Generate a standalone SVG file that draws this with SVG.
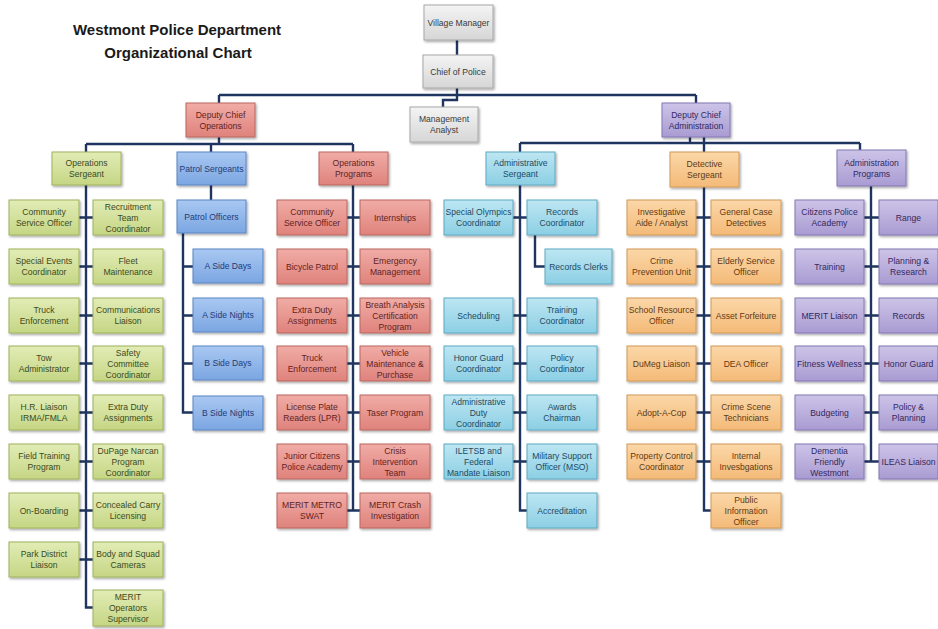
<svg xmlns="http://www.w3.org/2000/svg" width="938" height="629" viewBox="0 0 938 629">
<defs>
<linearGradient id="gw" x1="0" y1="0" x2="0" y2="1"><stop offset="0" stop-color="#f4f4f4"/><stop offset="1" stop-color="#d6d6d6"/></linearGradient>
<linearGradient id="gg" x1="0" y1="0" x2="0" y2="1"><stop offset="0" stop-color="#e2ecb6"/><stop offset="1" stop-color="#c5d684"/></linearGradient>
<linearGradient id="gr" x1="0" y1="0" x2="0" y2="1"><stop offset="0" stop-color="#f1aca6"/><stop offset="1" stop-color="#df827c"/></linearGradient>
<linearGradient id="gb" x1="0" y1="0" x2="0" y2="1"><stop offset="0" stop-color="#a9c8f2"/><stop offset="1" stop-color="#7ba6e2"/></linearGradient>
<linearGradient id="gc" x1="0" y1="0" x2="0" y2="1"><stop offset="0" stop-color="#bde6f2"/><stop offset="1" stop-color="#8ccfe4"/></linearGradient>
<linearGradient id="go" x1="0" y1="0" x2="0" y2="1"><stop offset="0" stop-color="#fbd7a8"/><stop offset="1" stop-color="#f4ba78"/></linearGradient>
<linearGradient id="gp" x1="0" y1="0" x2="0" y2="1"><stop offset="0" stop-color="#cdc4e8"/><stop offset="1" stop-color="#a99bd2"/></linearGradient>
<filter id="sh" x="-10%" y="-10%" width="130%" height="140%"><feDropShadow dx="1.2" dy="1.5" stdDeviation="0.9" flood-color="#000" flood-opacity="0.35"/></filter>
</defs>
<style>
text{font-family:"Liberation Sans",Arial,sans-serif;font-size:8.6px;text-anchor:middle}
.n rect{filter:url(#sh);stroke-width:1}
.w rect{fill:url(#gw);stroke:#a8a8a8}.w text{fill:#3a3a3a}
.g rect{fill:url(#gg);stroke:#9fb25c}.g text{fill:#3c4a22}
.r rect{fill:url(#gr);stroke:#b96660}.r text{fill:#5e2424}
.b rect{fill:url(#gb);stroke:#5b86c4}.b text{fill:#1f3c78}
.c rect{fill:url(#gc);stroke:#5eaac4}.c text{fill:#1e4a62}
.o rect{fill:url(#go);stroke:#d29a58}.o text{fill:#5e3a14}
.p rect{fill:url(#gp);stroke:#8478b4}.p text{fill:#33285e}
.title{font-size:15px;font-weight:bold;fill:#1a1a1a}
#connectors path{fill:none;stroke:#1f3560;stroke-width:2.4}
</style>
<rect width="938" height="629" fill="#ffffff"/>
<g id="title">
<text class="title" x="177" y="35">Westmont Police Department</text>
<text class="title" x="178" y="58">Organizational Chart</text>
</g>
<g id="connectors">
<path d="M457 40V55M457 88V100H443V107M219 95H696M219 95V103M696 95V103"/>
<path d="M86 144H353M219 137V144M211 144V152M86 144V152M353 144V152"/>
<path d="M520 143H860M690 137V143M704 137V152M520 143V152M860 143V150"/>
<path d="M86 185V607.5H93M79 217.5H93M79 266.5H93M79 315.5H93M79 363.5H93M79 412.5H93M79 461.5H93M79 510.5H93M79 559.5H93"/>
<path d="M211 185V200M183 233V412.5H193M183 266.5H193M183 315.5H193M183 363.5H193"/>
<path d="M353 185V510.5M347 217.5H360M347 266.5H360M347 315.5H360M347 363.5H360M347 412.5H360M347 461.5H360M347 510.5H360"/>
<path d="M520 185V510.5H527M513 217.5H527M513 315.5H527M513 363.5H527M513 412.5H527M513 461.5H527M535 235V266.5H545"/>
<path d="M704 187V510.5H711M696 217.5H711M696 266.5H711M696 315.5H711M696 363.5H711M696 412.5H711M696 461.5H711"/>
<path d="M871 186V461.5M864 217.5H879M864 266.5H879M864 315.5H879M864 363.5H879M864 412.5H879M864 461.5H879"/>
</g>
<!-- top -->
<g id="village-manager" class="n w"><rect x="424" y="5" width="69" height="35"/><text x="458.5" y="25.7">Village Manager</text></g>
<g id="chief-of-police" class="n w"><rect x="423" y="55" width="70" height="33"/><text x="458" y="74.7">Chief of Police</text></g>
<g id="management-analyst" class="n w"><rect x="410" y="107" width="68" height="35"/><text x="444" y="122.2">Management<tspan x="444" dy="11">Analyst</tspan></text></g>
<g id="deputy-chief-operations" class="n r"><rect x="186" y="103" width="69" height="34"/><text x="220.5" y="117.7">Deputy Chief<tspan x="220.5" dy="11">Operations</tspan></text></g>
<g id="deputy-chief-administration" class="n p"><rect x="662" y="103" width="68" height="34"/><text x="696" y="117.7">Deputy Chief<tspan x="696" dy="11">Administration</tspan></text></g>
<!-- level 2 -->
<g id="operations-sergeant" class="n g"><rect x="52" y="152" width="69" height="33"/><text x="86.5" y="166.2">Operations<tspan x="86.5" dy="11">Sergeant</tspan></text></g>
<g id="patrol-sergeants" class="n b"><rect x="177" y="152" width="69" height="33"/><text x="211.5" y="171.7">Patrol Sergeants</text></g>
<g id="operations-programs" class="n r"><rect x="319" y="152" width="69" height="33"/><text x="353.5" y="166.2">Operations<tspan x="353.5" dy="11">Programs</tspan></text></g>
<g id="administrative-sergeant" class="n c"><rect x="486" y="152" width="69" height="33"/><text x="520.5" y="166.2">Administrative<tspan x="520.5" dy="11">Sergeant</tspan></text></g>
<g id="detective-sergeant" class="n o"><rect x="670" y="152" width="69" height="35"/><text x="704.5" y="167.2">Detective<tspan x="704.5" dy="11">Sergeant</tspan></text></g>
<g id="administration-programs" class="n p"><rect x="837" y="150" width="69" height="36"/><text x="871.5" y="165.7">Administration<tspan x="871.5" dy="11">Programs</tspan></text></g>
<!-- operations sergeant -->
<g id="os-community-service-officer" class="n g"><rect x="9" y="200" width="70" height="35"/><text x="44" y="215.2">Community<tspan x="44" dy="11">Service Officer</tspan></text></g>
<g id="os-recruitment" class="n g"><rect x="93" y="200" width="70" height="35"/><text x="128" y="209.7">Recruitment<tspan x="128" dy="11">Team</tspan><tspan x="128" dy="11">Coordinator</tspan></text></g>
<g id="os-special-events" class="n g"><rect x="9" y="249" width="70" height="35"/><text x="44" y="264.2">Special Events<tspan x="44" dy="11">Coordinator</tspan></text></g>
<g id="os-fleet" class="n g"><rect x="93" y="249" width="70" height="35"/><text x="128" y="264.2">Fleet<tspan x="128" dy="11">Maintenance</tspan></text></g>
<g id="os-truck" class="n g"><rect x="9" y="298" width="70" height="35"/><text x="44" y="313.2">Truck<tspan x="44" dy="11">Enforcement</tspan></text></g>
<g id="os-communications" class="n g"><rect x="93" y="298" width="70" height="35"/><text x="128" y="313.2">Communications<tspan x="128" dy="11">Liaison</tspan></text></g>
<g id="os-tow" class="n g"><rect x="9" y="346" width="70" height="35"/><text x="44" y="361.2">Tow<tspan x="44" dy="11">Administrator</tspan></text></g>
<g id="os-safety" class="n g"><rect x="93" y="346" width="70" height="35"/><text x="128" y="355.7">Safety<tspan x="128" dy="11">Committee</tspan><tspan x="128" dy="11">Coordinator</tspan></text></g>
<g id="os-hr" class="n g"><rect x="9" y="395" width="70" height="35"/><text x="44" y="410.2">H.R. Liaison<tspan x="44" dy="11">IRMA/FMLA</tspan></text></g>
<g id="os-extra-duty" class="n g"><rect x="93" y="395" width="70" height="35"/><text x="128" y="410.2">Extra Duty<tspan x="128" dy="11">Assignments</tspan></text></g>
<g id="os-field-training" class="n g"><rect x="9" y="444" width="70" height="35"/><text x="44" y="459.2">Field Training<tspan x="44" dy="11">Program</tspan></text></g>
<g id="os-narcan" class="n g"><rect x="93" y="444" width="70" height="35"/><text x="128" y="453.7">DuPage Narcan<tspan x="128" dy="11">Program</tspan><tspan x="128" dy="11">Coordinator</tspan></text></g>
<g id="os-onboarding" class="n g"><rect x="9" y="493" width="70" height="35"/><text x="44" y="513.7">On-Boarding</text></g>
<g id="os-concealed-carry" class="n g"><rect x="93" y="493" width="70" height="35"/><text x="128" y="508.2">Concealed Carry<tspan x="128" dy="11">Licensing</tspan></text></g>
<g id="os-park-district" class="n g"><rect x="9" y="542" width="70" height="35"/><text x="44" y="557.2">Park District<tspan x="44" dy="11">Liaison</tspan></text></g>
<g id="os-body-cameras" class="n g"><rect x="93" y="542" width="70" height="35"/><text x="128" y="557.2">Body and Squad<tspan x="128" dy="11">Cameras</tspan></text></g>
<g id="os-merit-operators" class="n g"><rect x="93" y="590" width="70" height="36"/><text x="128" y="600.2">MERIT<tspan x="128" dy="11">Operators</tspan><tspan x="128" dy="11">Supervisor</tspan></text></g>
<!-- patrol -->
<g id="patrol-officers" class="n b"><rect x="177" y="200" width="69" height="33"/><text x="211.5" y="219.7">Patrol Officers</text></g>
<g id="a-side-days" class="n b"><rect x="193" y="249" width="70" height="34"/><text x="228" y="269.2">A Side Days</text></g>
<g id="a-side-nights" class="n b"><rect x="193" y="298" width="70" height="34"/><text x="228" y="318.2">A Side Nights</text></g>
<g id="b-side-days" class="n b"><rect x="193" y="346" width="70" height="34"/><text x="228" y="366.2">B Side Days</text></g>
<g id="b-side-nights" class="n b"><rect x="193" y="396" width="70" height="34"/><text x="228" y="416.2">B Side Nights</text></g>
<!-- operations programs -->
<g id="op-community-service-officer" class="n r"><rect x="277" y="200" width="70" height="35"/><text x="312" y="215.2">Community<tspan x="312" dy="11">Service Officer</tspan></text></g>
<g id="op-internships" class="n r"><rect x="360" y="200" width="70" height="35"/><text x="395" y="220.7">Internships</text></g>
<g id="op-bicycle-patrol" class="n r"><rect x="277" y="249" width="70" height="35"/><text x="312" y="269.7">Bicycle Patrol</text></g>
<g id="op-emergency-management" class="n r"><rect x="360" y="249" width="70" height="35"/><text x="395" y="264.2">Emergency<tspan x="395" dy="11">Management</tspan></text></g>
<g id="op-extra-duty" class="n r"><rect x="277" y="298" width="70" height="35"/><text x="312" y="313.2">Extra Duty<tspan x="312" dy="11">Assignments</tspan></text></g>
<g id="op-breath-analysis" class="n r"><rect x="360" y="298" width="70" height="35"/><text x="395" y="307.7">Breath Analysis<tspan x="395" dy="11">Certification</tspan><tspan x="395" dy="11">Program</tspan></text></g>
<g id="op-truck" class="n r"><rect x="277" y="346" width="70" height="35"/><text x="312" y="361.2">Truck<tspan x="312" dy="11">Enforcement</tspan></text></g>
<g id="op-vehicle-maintenance" class="n r"><rect x="360" y="346" width="70" height="35"/><text x="395" y="355.7">Vehicle<tspan x="395" dy="11">Maintenance &amp;</tspan><tspan x="395" dy="11">Purchase</tspan></text></g>
<g id="op-lpr" class="n r"><rect x="277" y="395" width="70" height="35"/><text x="312" y="410.2">License Plate<tspan x="312" dy="11">Readers (LPR)</tspan></text></g>
<g id="op-taser" class="n r"><rect x="360" y="395" width="70" height="35"/><text x="395" y="415.7">Taser Program</text></g>
<g id="op-junior-citizens" class="n r"><rect x="277" y="444" width="70" height="35"/><text x="312" y="459.2">Junior Citizens<tspan x="312" dy="11">Police Academy</tspan></text></g>
<g id="op-crisis-intervention" class="n r"><rect x="360" y="444" width="70" height="35"/><text x="395" y="453.7">Crisis<tspan x="395" dy="11">Intervention</tspan><tspan x="395" dy="11">Team</tspan></text></g>
<g id="op-merit-swat" class="n r"><rect x="277" y="493" width="70" height="35"/><text x="312" y="508.2">MERIT METRO<tspan x="312" dy="11">SWAT</tspan></text></g>
<g id="op-merit-crash" class="n r"><rect x="360" y="493" width="70" height="35"/><text x="395" y="508.2">MERIT Crash<tspan x="395" dy="11">Investigation</tspan></text></g>
<!-- administrative sergeant -->
<g id="as-special-olympics" class="n c"><rect x="444" y="200" width="69" height="35"/><text x="478.5" y="215.2">Special Olympics<tspan x="478.5" dy="11">Coordinator</tspan></text></g>
<g id="as-records-coordinator" class="n c"><rect x="527" y="200" width="70" height="35"/><text x="562" y="215.2">Records<tspan x="562" dy="11">Coordinator</tspan></text></g>
<g id="as-records-clerks" class="n c"><rect x="545" y="249" width="67" height="35"/><text x="578.5" y="269.7">Records Clerks</text></g>
<g id="as-scheduling" class="n c"><rect x="444" y="298" width="69" height="35"/><text x="478.5" y="318.7">Scheduling</text></g>
<g id="as-training-coordinator" class="n c"><rect x="527" y="298" width="70" height="35"/><text x="562" y="313.2">Training<tspan x="562" dy="11">Coordinator</tspan></text></g>
<g id="as-honor-guard" class="n c"><rect x="444" y="346" width="69" height="35"/><text x="478.5" y="361.2">Honor Guard<tspan x="478.5" dy="11">Coordinator</tspan></text></g>
<g id="as-policy-coordinator" class="n c"><rect x="527" y="346" width="70" height="35"/><text x="562" y="361.2">Policy<tspan x="562" dy="11">Coordinator</tspan></text></g>
<g id="as-admin-duty" class="n c"><rect x="444" y="395" width="69" height="35"/><text x="478.5" y="404.7">Administrative<tspan x="478.5" dy="11">Duty</tspan><tspan x="478.5" dy="11">Coordinator</tspan></text></g>
<g id="as-awards" class="n c"><rect x="527" y="395" width="70" height="35"/><text x="562" y="410.2">Awards<tspan x="562" dy="11">Chairman</tspan></text></g>
<g id="as-iletsb" class="n c"><rect x="444" y="444" width="69" height="35"/><text x="478.5" y="453.7">ILETSB and<tspan x="478.5" dy="11">Federal</tspan><tspan x="478.5" dy="11">Mandate Liaison</tspan></text></g>
<g id="as-military-support" class="n c"><rect x="527" y="444" width="70" height="35"/><text x="562" y="459.2">Military Support<tspan x="562" dy="11">Officer (MSO)</tspan></text></g>
<g id="as-accreditation" class="n c"><rect x="527" y="493" width="70" height="35"/><text x="562" y="513.7">Accreditation</text></g>
<!-- detective sergeant -->
<g id="ds-investigative-aide" class="n o"><rect x="627" y="200" width="69" height="35"/><text x="661.5" y="215.2">Investigative<tspan x="661.5" dy="11">Aide / Analyst</tspan></text></g>
<g id="ds-general-case" class="n o"><rect x="711" y="200" width="70" height="35"/><text x="746" y="215.2">General Case<tspan x="746" dy="11">Detectives</tspan></text></g>
<g id="ds-crime-prevention" class="n o"><rect x="627" y="249" width="69" height="35"/><text x="661.5" y="264.2">Crime<tspan x="661.5" dy="11">Prevention Unit</tspan></text></g>
<g id="ds-elderly-service" class="n o"><rect x="711" y="249" width="70" height="35"/><text x="746" y="264.2">Elderly Service<tspan x="746" dy="11">Officer</tspan></text></g>
<g id="ds-school-resource" class="n o"><rect x="627" y="298" width="69" height="35"/><text x="661.5" y="313.2">School Resource<tspan x="661.5" dy="11">Officer</tspan></text></g>
<g id="ds-asset-forfeiture" class="n o"><rect x="711" y="298" width="70" height="35"/><text x="746" y="318.7">Asset Forfeiture</text></g>
<g id="ds-dumeg" class="n o"><rect x="627" y="346" width="69" height="35"/><text x="661.5" y="366.7">DuMeg Liaison</text></g>
<g id="ds-dea" class="n o"><rect x="711" y="346" width="70" height="35"/><text x="746" y="366.7">DEA Officer</text></g>
<g id="ds-adopt-a-cop" class="n o"><rect x="627" y="395" width="69" height="35"/><text x="661.5" y="415.7">Adopt-A-Cop</text></g>
<g id="ds-crime-scene" class="n o"><rect x="711" y="395" width="70" height="35"/><text x="746" y="410.2">Crime Scene<tspan x="746" dy="11">Technicians</tspan></text></g>
<g id="ds-property-control" class="n o"><rect x="627" y="444" width="69" height="35"/><text x="661.5" y="459.2">Property Control<tspan x="661.5" dy="11">Coordinator</tspan></text></g>
<g id="ds-internal" class="n o"><rect x="711" y="444" width="70" height="35"/><text x="746" y="459.2">Internal<tspan x="746" dy="11">Invesbgations</tspan></text></g>
<g id="ds-public-information" class="n o"><rect x="711" y="493" width="70" height="35"/><text x="746" y="502.7">Public<tspan x="746" dy="11">Information</tspan><tspan x="746" dy="11">Officer</tspan></text></g>
<!-- administration programs -->
<g id="ap-citizens-police-academy" class="n p"><rect x="795" y="200" width="69" height="35"/><text x="829.5" y="215.2">Citizens Police<tspan x="829.5" dy="11">Academy</tspan></text></g>
<g id="ap-range" class="n p"><rect x="879" y="200" width="59" height="35"/><text x="908.5" y="220.7">Range</text></g>
<g id="ap-training" class="n p"><rect x="795" y="249" width="69" height="35"/><text x="829.5" y="269.7">Training</text></g>
<g id="ap-planning-research" class="n p"><rect x="879" y="249" width="59" height="35"/><text x="908.5" y="264.2">Planning &amp;<tspan x="908.5" dy="11">Research</tspan></text></g>
<g id="ap-merit-liaison" class="n p"><rect x="795" y="298" width="69" height="35"/><text x="829.5" y="318.7">MERIT Liaison</text></g>
<g id="ap-records" class="n p"><rect x="879" y="298" width="59" height="35"/><text x="908.5" y="318.7">Records</text></g>
<g id="ap-fitness-wellness" class="n p"><rect x="795" y="346" width="69" height="35"/><text x="829.5" y="366.7">Fitness Wellness</text></g>
<g id="ap-honor-guard" class="n p"><rect x="879" y="346" width="59" height="35"/><text x="908.5" y="366.7">Honor Guard</text></g>
<g id="ap-budgeting" class="n p"><rect x="795" y="395" width="69" height="35"/><text x="829.5" y="415.7">Budgeting</text></g>
<g id="ap-policy-planning" class="n p"><rect x="879" y="395" width="59" height="35"/><text x="908.5" y="410.2">Policy &amp;<tspan x="908.5" dy="11">Planning</tspan></text></g>
<g id="ap-dementia-friendly" class="n p"><rect x="795" y="444" width="69" height="35"/><text x="829.5" y="453.7">Dementia<tspan x="829.5" dy="11">Friendly</tspan><tspan x="829.5" dy="11">Westmont</tspan></text></g>
<g id="ap-ileas" class="n p"><rect x="879" y="444" width="59" height="35"/><text x="908.5" y="464.7">ILEAS Liaison</text></g>
</svg>
